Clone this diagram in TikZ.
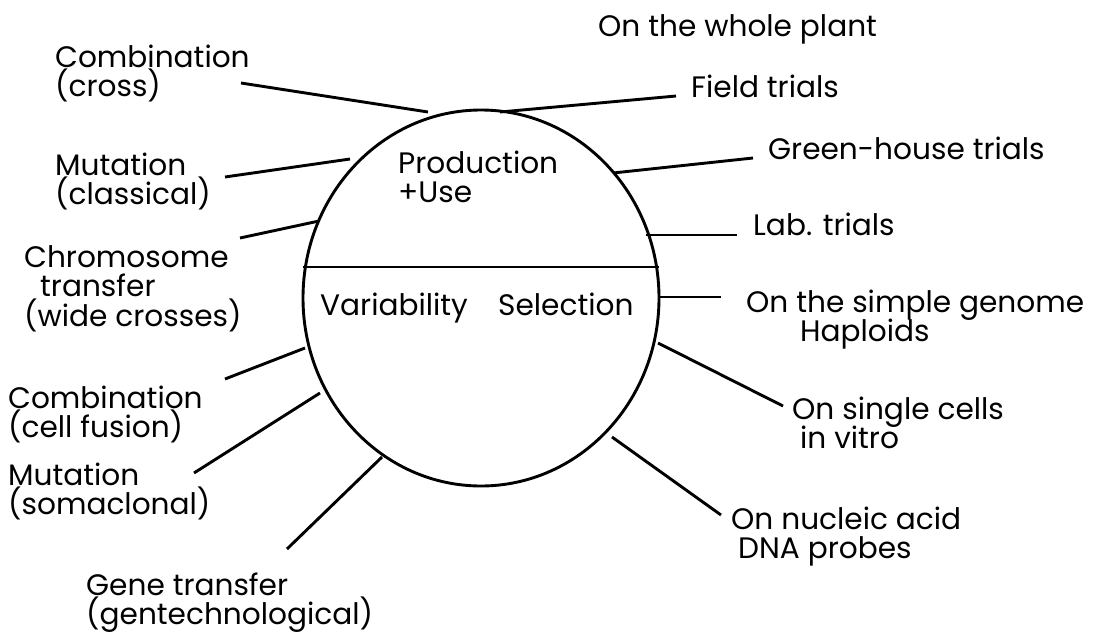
\documentclass[tikz,border=0pt]{standalone}
\usepackage{fontspec}
\setmainfont{Poppins}
\usetikzlibrary{shapes.geometric}
\newcommand\lbfont{\fontsize{29.6}{29.5}\selectfont\lineskiplimit=-20pt\relax}
\newcommand\fl{\rule{0pt}{26pt}}
\tikzset{
  lbl/.style={font=\lbfont, inner sep=0pt, anchor=base west},
  mlbl/.style={font=\lbfont, inner sep=0pt, anchor=north west, align=left},
  conn/.style={line width=2.9pt, line cap=butt},
}
\begin{document}
\begin{tikzpicture}[x=1pt,y=-1pt]
\useasboundingbox (0,0) rectangle (1104,635);
% circle
\node[draw, ellipse, line width=2.9pt, minimum width=356pt, minimum height=376pt, inner sep=0pt] (circ) at (481,298) {};
\coordinate (chL) at (303,267);
\coordinate (chR) at (659,267);
\draw[conn] (chL) -- (chR);
% inner texts
\node[mlbl] (prod) at (398,147) {\fl Production\\+Use};
\node[lbl] (var) at (320,315) {Variability};
\node[lbl] (sel) at (498,315) {Selection};
% right labels
\node[lbl] (whole) at (598,36) {On the whole plant};
\node[lbl] (field) at (691,97) {Field trials};
\node[lbl] (green) at (768,159) {Green-house trials};
\node[lbl] (lab) at (753,235) {Lab. trials};
\node[mlbl] (simple) at (746,286) {\fl On the simple genome\\\hspace*{54pt}Haploids};
\node[mlbl] (single) at (792,393) {\fl On single cells\\\hspace*{8pt}in vitro};
\node[mlbl] (nucl) at (731,503) {\fl On nucleic acid\\\hspace*{7pt}DNA probes};
% left labels
\node[mlbl] (comb) at (55,41) {\fl Combination\\(cross)};
\node[mlbl] (mutc) at (55,149) {\fl Mutation\\(classical)};
\node[mlbl] (chrom) at (24,241) {\fl Chromosome\\\hspace*{16pt}transfer\\(wide crosses)};
\node[mlbl] (combf) at (8,382) {\fl Combination\\(cell fusion)};
\node[mlbl] (muts) at (8,459) {\fl Mutation\\(somaclonal)};
\node[mlbl] (gene) at (86,569) {\fl Gene transfer\\(gentechnological)};
% connector end points
\coordinate (a1) at (241,83);  \coordinate (b1) at (428,112);
\coordinate (a2) at (225,177); \coordinate (b2) at (350,159);
\coordinate (a3) at (240,238); \coordinate (b3) at (319,221);
\coordinate (a4) at (225,379); \coordinate (b4) at (305,348);
\coordinate (a5) at (194,473); \coordinate (b5) at (320,393);
\coordinate (a6) at (287,549); \coordinate (b6) at (382,457);
\coordinate (a7) at (500,112); \coordinate (b7) at (676,96);
\coordinate (a8) at (613,173); \coordinate (b8) at (753,158);
\coordinate (a9) at (646,235); \coordinate (b9) at (737,235);
\coordinate (a10) at (659,297); \coordinate (b10) at (721,297);
\coordinate (a11) at (658,343); \coordinate (b11) at (783,406);
\coordinate (a12) at (612,437); \coordinate (b12) at (721,515);
\foreach \i in {1,...,12} \draw[conn] (a\i) -- (b\i);
\end{tikzpicture}
\end{document}
